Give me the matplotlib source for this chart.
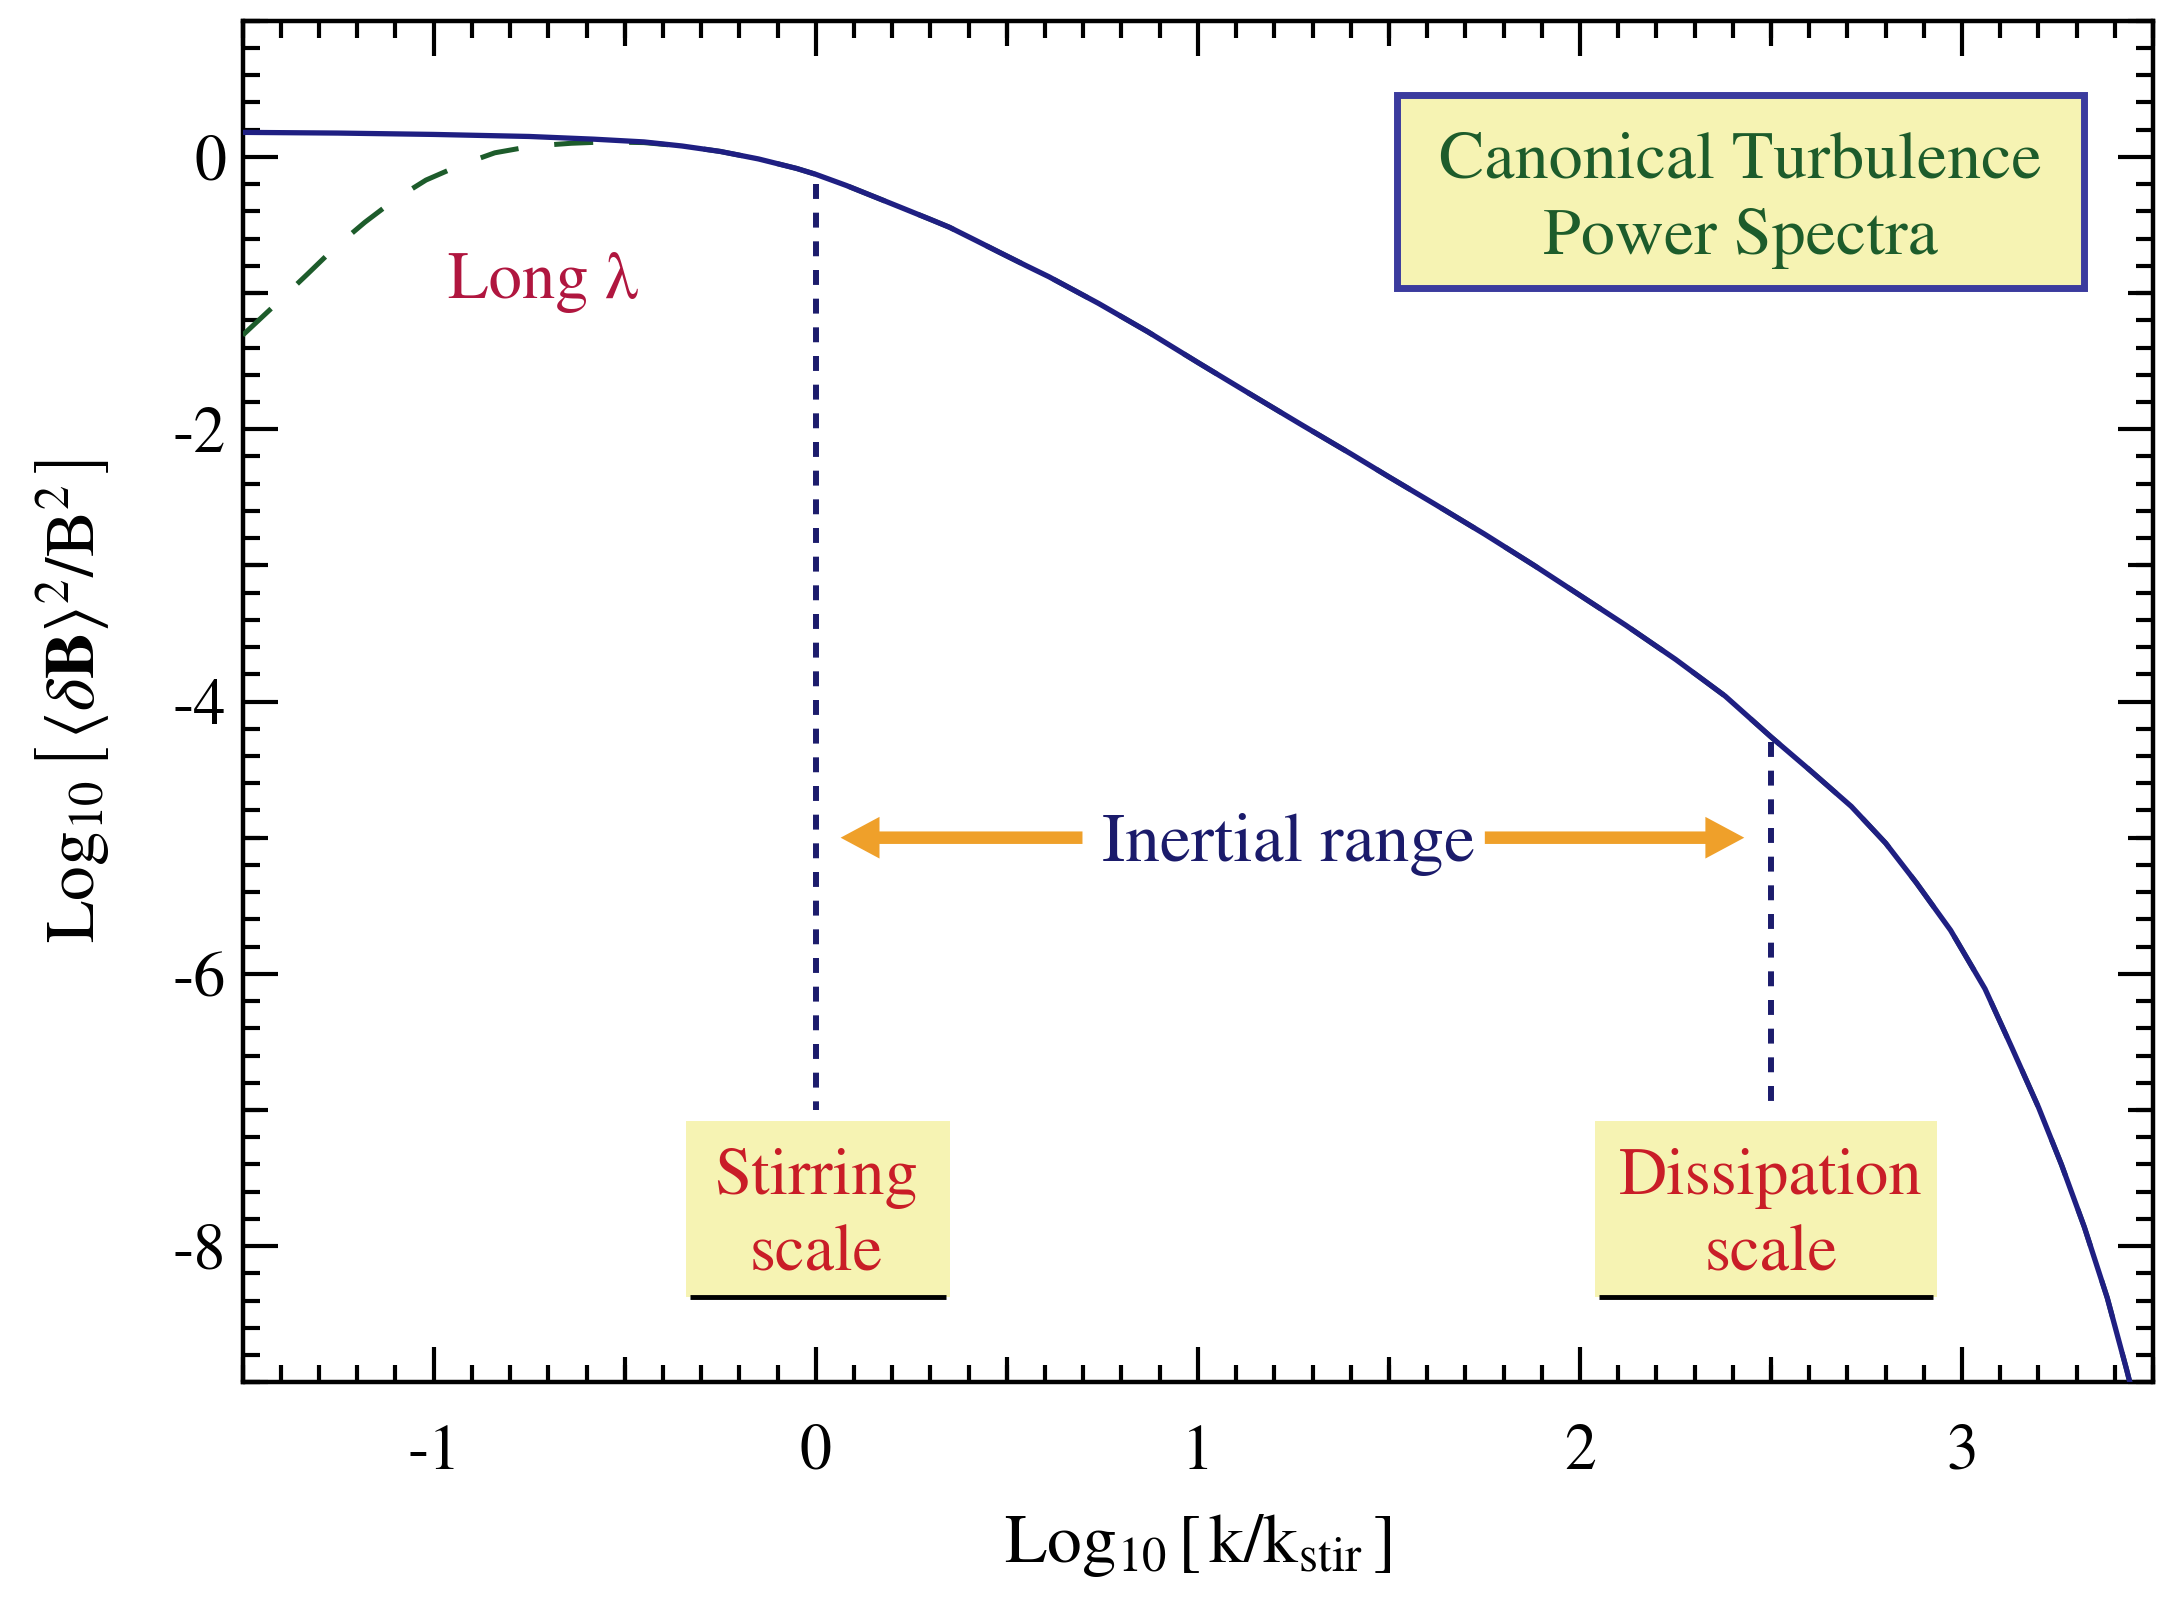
import matplotlib
matplotlib.use('Agg')
import matplotlib.pyplot as plt
from matplotlib.patches import Rectangle
from matplotlib.ticker import MultipleLocator, NullFormatter

# ---------------- data ----------------
log_k_total = [-1.5, -1.25, -1.0, -0.75, -0.58, -0.45, -0.35, -0.25, -0.15, -0.05, 0.0,
               0.08, 0.15, 0.22, 0.3, 0.35, 0.42, 0.48, 0.55, 0.61, 0.74, 0.87, 1.0, 1.13,
               1.27, 1.4, 1.5, 1.62, 1.75, 1.88, 2.0, 2.12, 2.25, 2.38, 2.5, 2.6, 2.71, 2.8,
               2.88, 2.97, 3.06, 3.13, 3.2, 3.26, 3.32, 3.38, 3.43, 3.45]
log_power_total = [0.18, 0.175, 0.165, 0.15, 0.13, 0.11, 0.08, 0.04, -0.015, -0.085, -0.128,
                   -0.21, -0.289, -0.368, -0.459, -0.517, -0.615, -0.70, -0.798, -0.88, -1.076,
                   -1.286, -1.51, -1.73, -1.965, -2.18, -2.35, -2.55, -2.77, -3.00, -3.22,
                   -3.44, -3.69, -3.96, -4.26, -4.50, -4.77, -5.04, -5.33, -5.68, -6.11, -6.54,
                   -6.98, -7.40, -7.86, -8.38, -8.90, -9.12]

log_k_longwave = [-1.5, -1.42, -1.33, -1.26, -1.18, -1.1, -1.02, -0.93, -0.84, -0.74,
                  -0.64, -0.55, -0.45, -0.35, -0.25, -0.15, -0.05, 0.0, 0.08, 0.15, 0.22,
                  0.3, 0.35, 0.42, 0.48, 0.55, 0.61, 0.74, 0.87, 1.0, 1.13, 1.27, 1.4, 1.5,
                  1.62, 1.75, 1.88, 2.0, 2.12, 2.25, 2.38, 2.5, 2.6, 2.71, 2.8, 2.88, 2.97,
                  3.06, 3.13, 3.2, 3.26, 3.32, 3.38, 3.43, 3.45]
log_power_longwave = [-1.31, -1.10, -0.86, -0.67, -0.48, -0.31, -0.17, -0.06, 0.03, 0.08,
                      0.10, 0.11, 0.105, 0.08, 0.04, -0.015, -0.085, -0.128, -0.21, -0.289,
                      -0.368, -0.459, -0.517, -0.615, -0.70, -0.798, -0.88, -1.076, -1.286,
                      -1.51, -1.73, -1.965, -2.18, -2.35, -2.55, -2.77, -3.00, -3.22, -3.44,
                      -3.69, -3.96, -4.26, -4.50, -4.77, -5.04, -5.33, -5.68, -6.11, -6.54,
                      -6.98, -7.40, -7.86, -8.38, -8.90, -9.12]

x_tick_values = [-1, 0, 1, 2, 3]
y_tick_values = [0, -2, -4, -6, -8]

stirring_scale = 0.0
stirring_line_range = (-0.2, -7.0)
dissipation_scale = 2.5
dissipation_line_range = (-4.3, -7.0)

# ---------------- style ----------------
plt.rcParams['font.family'] = ['STIXGeneral', 'DejaVu Serif']
plt.rcParams['mathtext.fontset'] = 'stix'
plt.rcParams['axes.unicode_minus'] = False

navy = '#1f1f82'
green = '#1d5c2b'
yellow = '#f6f3b3'
red = '#c91d27'
crimson = '#b0163f'
orange = '#efa02a'

fig = plt.figure(figsize=(21.74, 16.07), dpi=100)
ax = fig.add_axes([0.1116, 0.1398, 0.9904 - 0.1116, 0.9871 - 0.1398])

ax.set_xlim(-1.5, 3.5)
ax.set_ylim(-9, 1)

# curves
ax.plot(log_k_longwave, log_power_longwave, color=green, lw=3.6, dashes=(7.8, 7.2),
        dash_capstyle='butt', solid_joinstyle='round', zorder=3)
ax.plot(log_k_total, log_power_total, color=navy, lw=3.8, solid_joinstyle='round',
        solid_capstyle='round', zorder=4)

# scale markers
ax.plot([stirring_scale, stirring_scale], stirring_line_range, color='#1c1c6c', lw=4.3,
        dashes=(2.5, 2.3), zorder=2)
ax.plot([dissipation_scale, dissipation_scale], dissipation_line_range, color='#1c1c6c',
        lw=4.3, dashes=(2.5, 2.3), zorder=2)

# label boxes
for (x0, x1), cx, words in [((-0.339, 0.350), stirring_scale, ('Stirring', 'scale')),
                            ((2.040, 2.935), dissipation_scale, ('Dissipation', 'scale'))]:
    ax.add_patch(Rectangle((x0, -8.37), x1 - x0, 8.37 - 7.08, facecolor=yellow,
                           edgecolor='none', zorder=1))
    ax.plot([x0 + 0.01, x1 - 0.01], [-8.37, -8.37], color='black', lw=3.5,
            solid_capstyle='butt', zorder=2)
    ax.text(cx, -7.62, words[0], color=red, fontsize=48, ha='center', va='baseline', zorder=3)
    ax.text(cx, -8.18, words[1], color=red, fontsize=48, ha='center', va='baseline', zorder=3)

# title box
ax.add_patch(Rectangle((1.52, -0.966), 3.32 - 1.52, 0.458 + 0.966, facecolor=yellow,
                       edgecolor='#3b3b9e', lw=5, zorder=1))
ax.text(2.42, -0.153, 'Canonical Turbulence', color=green, fontsize=49, ha='center',
        va='baseline', zorder=3)
ax.text(2.42, -0.712, 'Power Spectra', color=green, fontsize=49, ha='center',
        va='baseline', zorder=3)

# Long lambda
ax.text(-0.713, -1.04, 'Long λ', color=crimson, fontsize=48, ha='center', va='baseline')

# Inertial range + arrows
ax.text(1.237, -5.17, 'Inertial range', color='#1b1b6b', fontsize=50, ha='center',
        va='baseline')
arrow_style = 'simple,head_length=1.4,head_width=1.5,tail_width=0.45'
ax.annotate('', xy=(0.065, -5.0), xytext=(0.698, -5.0),
            arrowprops=dict(arrowstyle=arrow_style, color=orange, lw=0, mutation_scale=20,
                            shrinkA=0, shrinkB=0))
ax.annotate('', xy=(2.43, -5.0), xytext=(1.751, -5.0),
            arrowprops=dict(arrowstyle=arrow_style, color=orange, lw=0, mutation_scale=20,
                            shrinkA=0, shrinkB=0))

# ---------------- axes, ticks ----------------
for s in ax.spines.values():
    s.set_linewidth(3.2)
    s.set_color('black')

ax.xaxis.set_minor_locator(MultipleLocator(0.1))
ax.yaxis.set_minor_locator(MultipleLocator(0.2))
ax.tick_params(which='both', direction='in', top=True, right=True, colors='black')
ax.tick_params(which='major', length=25, width=3.0, labelsize=46)
ax.tick_params(which='minor', length=12.5, width=3.0)
ax.tick_params(axis='x', which='major', pad=30)
ax.tick_params(axis='y', which='major', pad=12)
ax.set_xticks(x_tick_values)
ax.set_xticklabels([str(v) for v in x_tick_values])
ax.set_yticks(y_tick_values)
ax.set_yticklabels([str(v) for v in y_tick_values])

# medium ticks (half units on x, odd integers on y)
for side in ('bottom', 'top'):
    sec = ax.secondary_xaxis(side)
    sec.set_xticks([-1.5, -0.5, 0.5, 1.5, 2.5, 3.5])
    sec.xaxis.set_major_formatter(NullFormatter())
    sec.tick_params(direction='in', length=18, width=3.0)
    for s in sec.spines.values():
        s.set_visible(False)
for side in ('left', 'right'):
    sec = ax.secondary_yaxis(side)
    sec.set_yticks([1, -1, -3, -5, -7, -9])
    sec.yaxis.set_major_formatter(NullFormatter())
    sec.tick_params(direction='in', length=18, width=3.0)
    for s in sec.spines.values():
        s.set_visible(False)

ax.set_xlabel(r'$\mathrm{Log}_{10}\,\left[\,\mathrm{k/k_{stir}}\,\right]$', fontsize=50)
ax.xaxis.set_label_coords(0.5, -0.095)
ax.xaxis.label.set_va('top')
ax.set_ylabel(r'$\mathrm{Log}_{10}\,\left[\,\langle\delta\mathbf{B}\rangle^{2}/\mathrm{B}^{2}\,\right]$',
              fontsize=50)
ax.yaxis.set_label_coords(-0.069, 0.5)

fig.savefig('out.png', dpi=100, facecolor='white')
